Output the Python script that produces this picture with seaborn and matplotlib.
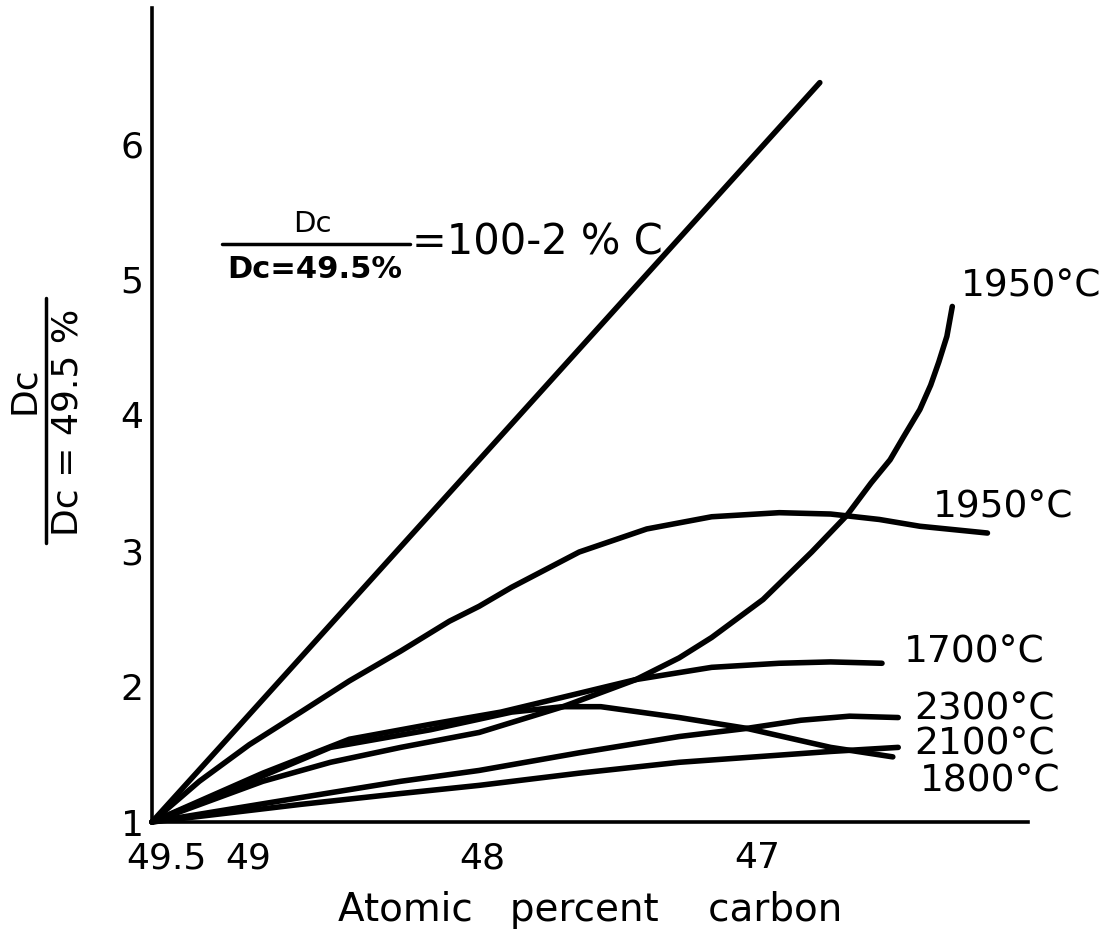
import numpy as np
import matplotlib
matplotlib.use("Agg")
import matplotlib.pyplot as plt
import seaborn as sns
from matplotlib.lines import Line2D
from matplotlib.transforms import ScaledTranslation

# Atomic percent carbon (x) and relative diffusion coefficient Dc / Dc(49.5 %) (y)
pct_linear = [49.5, 49.0, 46.78]
ratio_linear = [1.0, 1.55, 6.45]

pct_1950_rise = [49.5, 48.84, 48.59, 48.33, 48.04, 47.73, 47.46, 47.30, 47.18,
                 46.99, 46.81, 46.68, 46.59, 46.52, 46.47, 46.41, 46.37, 46.34, 46.31, 46.29]
ratio_1950_rise = [1.0, 1.30, 1.44, 1.55, 1.66, 1.85, 2.05, 2.21, 2.36,
                   2.64, 2.99, 3.26, 3.50, 3.67, 3.84, 4.04, 4.22, 4.39, 4.58, 4.80]

pct_1950_peak = [49.5, 49.15, 48.89, 48.70, 48.52, 48.33, 48.15, 48.04, 47.92,
                 47.67, 47.42, 47.18, 46.93, 46.74, 46.56, 46.41, 46.16]
ratio_1950_peak = [1.0, 1.30, 1.57, 1.81, 2.04, 2.26, 2.48, 2.59, 2.73,
                   2.99, 3.16, 3.25, 3.28, 3.27, 3.23, 3.18, 3.13]

pct_1700 = [49.5, 48.84, 48.52, 48.22, 47.96, 47.73, 47.46, 47.18, 46.93, 46.74, 46.55]
ratio_1700 = [1.0, 1.36, 1.61, 1.72, 1.81, 1.92, 2.05, 2.14, 2.17, 2.18, 2.17]

pct_1800 = [49.5, 48.84, 48.59, 48.22, 47.92, 47.73, 47.59, 47.30, 47.05, 46.74, 46.51]
ratio_1800 = [1.0, 1.34, 1.55, 1.68, 1.81, 1.85, 1.85, 1.77, 1.69, 1.55, 1.48]

pct_2300 = [49.5, 48.70, 48.33, 48.04, 47.67, 47.30, 47.05, 46.85, 46.67, 46.49]
ratio_2300 = [1.0, 1.18, 1.30, 1.38, 1.51, 1.63, 1.69, 1.75, 1.78, 1.77]

pct_2100 = [49.5, 48.70, 48.33, 48.04, 47.67, 47.30, 46.74, 46.49]
ratio_2100 = [1.0, 1.13, 1.21, 1.27, 1.36, 1.44, 1.52, 1.55]

x_ticks = [49.5, 49, 48, 47]
x_tick_labels = ["49.5", "49", "48", "47"]
y_ticks = [1, 2, 3, 4, 5, 6]
y_tick_labels = ["1", "2", "3", "4", "5", "6"]

curve_labels = ["1950°C", "1950°C", "1700°C", "2300°C", "2100°C", "1800°C"]
curve_label_x = [46.26, 46.36, 46.47, 46.43, 46.43, 46.41]
curve_label_y = [4.95, 3.32, 2.25, 1.83, 1.57, 1.30]

sns.set_theme(style="white")
plt.rcParams["font.family"] = ["DejaVu Sans"]
plt.rcParams["text.color"] = "black"

W, H = 1120, 944
fig = plt.figure(figsize=(W / 100, H / 100), dpi=100)
ax = fig.add_axes([152 / W, 122 / H, 876 / W, 814 / H])


# The composition axis is compressed between 49.5 and 49 at.% C
def fwd(x):
    x = np.asarray(x, dtype=float)
    return -np.where(x >= 49.0, (49.5 - x) * 0.5, 0.25 + (49.0 - x))


def inv(q):
    p = -np.asarray(q, dtype=float)
    return np.where(p <= 0.25, 49.5 - 2.0 * p, 49.25 - p)


ax.set_xscale("function", functions=(fwd, inv))

series = [
    (pct_linear, ratio_linear),
    (pct_1950_rise, ratio_1950_rise),
    (pct_1950_peak, ratio_1950_peak),
    (pct_1700, ratio_1700),
    (pct_1800, ratio_1800),
    (pct_2300, ratio_2300),
    (pct_2100, ratio_2100),
]
for xs, ys in series:
    sns.lineplot(x=xs, y=ys, ax=ax, color="black", linewidth=4.0,
                 sort=False, estimator=None, legend=False)
for ln in ax.lines:
    ln.set_clip_on(False)
    ln.set_solid_capstyle("round")
    ln.set_solid_joinstyle("round")

ax.set_xlim(49.5, 46.01)
ax.set_ylim(1, 7)

for side in ("top", "right"):
    ax.spines[side].set_visible(False)
for side in ("left", "bottom"):
    ax.spines[side].set_color("black")
    ax.spines[side].set_linewidth(2.6)

ax.set_xticks(x_ticks, labels=x_tick_labels)
ax.set_yticks(y_ticks, labels=y_tick_labels)
ax.tick_params(direction="in", length=8, width=1.8, colors="black", labelsize=26)
ax.tick_params(axis="x", pad=14)
ax.tick_params(axis="y", pad=6)
for lab, dx in zip(ax.get_xticklabels(), [14, 29, -8, -3]):
    lab.set_transform(lab.get_transform() + ScaledTranslation(dx / 100, 0, fig.dpi_scale_trans))

ax.set_xlabel("Atomic   percent    carbon", fontsize=28, color="black")
ax.xaxis.set_label_coords(0.5, -0.085)
ax.set_ylabel("")

# Curve temperature labels
for txt, lx, ly in zip(curve_labels, curve_label_x, curve_label_y):
    ax.text(lx, ly, txt, fontsize=27, ha="left", va="center", color="black")


def fx(px):
    return px / W


def fy(py):
    return 1 - py / H


# Vertical axis title drawn as a fraction
fig.text(fx(24), fy(390), "Dc", rotation=90, fontsize=26, ha="center", va="center", color="black")
fig.add_artist(Line2D([fx(46), fx(46)], [fy(298), fy(543)], transform=fig.transFigure,
                      color="black", linewidth=2.5))
fig.text(fx(68), fy(422), "Dc = 49.5 %", rotation=90, fontsize=26, ha="center", va="center",
         color="black")

# Formula of the straight reference line
fig.text(fx(312), fy(224), "Dc", fontsize=21, ha="center", va="center", color="black")
fig.add_artist(Line2D([fx(222), fx(410)], [fy(244), fy(244)], transform=fig.transFigure,
                      color="black", linewidth=2.5))
fig.text(fx(315), fy(270), "Dc=49.5%", fontsize=22, fontweight="bold", ha="center", va="center",
         color="black")
fig.text(fx(412), fy(243), "=100-2 % C", fontsize=30, ha="left", va="center", color="black")

fig.savefig("out.png", dpi=100, facecolor="white")
